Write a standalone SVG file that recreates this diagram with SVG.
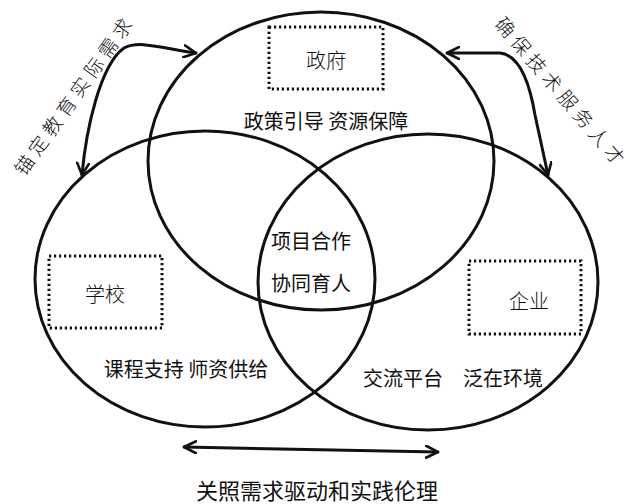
<svg xmlns="http://www.w3.org/2000/svg" width="639" height="504" viewBox="0 0 639 504">
<style>
.c{fill:none;stroke:#111;stroke-width:3}
.box{fill:none;stroke:#111;stroke-width:3;stroke-dasharray:2.2 2.8}
.a{fill:none;stroke:#111;stroke-width:3;stroke-linecap:round;stroke-linejoin:round}
.t{font-family:"Noto Sans CJK SC","Noto Sans",sans-serif;fill:#111;text-anchor:middle;dominant-baseline:central}
.lb{font-size:20px}
.bx{font-size:20px;font-weight:300}
.rt{font-size:19px;font-weight:300;letter-spacing:5px}
</style>
<defs>
<marker id="ah" viewBox="0 0 14 14" refX="13" refY="7" markerWidth="14" markerHeight="14" markerUnits="userSpaceOnUse" orient="auto-start-reverse">
<path d="M1,1 L13,7 L1,13" fill="none" stroke="#111" stroke-width="2.6" stroke-linecap="round" stroke-linejoin="round"/>
</marker>
</defs>
<g id="gov">
<ellipse class="c" cx="321" cy="161" rx="173" ry="149"/>
<rect class="box" x="269" y="27" width="114" height="62"/>
<text class="t bx" x="326" y="59">政府</text>
<text class="t lb" x="326" y="120">政策引导 资源保障</text>
</g>
<g id="school">
<ellipse class="c" cx="205" cy="279" rx="170" ry="148"/>
<rect class="box" x="49" y="256" width="113" height="72"/>
<text class="t bx" x="105" y="293">学校</text>
<text class="t lb" x="186" y="368">课程支持 师资供给</text>
</g>
<g id="enterprise">
<ellipse class="c" cx="428" cy="282" rx="170" ry="148"/>
<rect class="box" x="469" y="261" width="112" height="73"/>
<text class="t bx" x="529" y="300">企业</text>
<text class="t lb" x="453" y="377">交流平台　泛在环境</text>
</g>
<g id="center">
<text class="t lb" x="311" y="240">项目合作</text>
<text class="t lb" x="311" y="282">协同育人</text>
</g>
<g id="connectors">
<path class="a" d="M196,53 C160,48 140,40 124,48 C100,65 86,130 82,175" marker-start="url(#ah)" marker-end="url(#ah)"/>
<path class="a" d="M447,53 L500,53 C520,55 530,85 535,115 L548,175" marker-start="url(#ah)" marker-end="url(#ah)"/>
<path class="a" d="M184,447 L438,452" marker-start="url(#ah)" marker-end="url(#ah)"/>
</g>
<g id="labels">
<text class="t rt" x="2.5" y="0" transform="translate(72,96) rotate(-54.5)">锚定教育实际需求</text>
<text class="t rt" x="2.5" y="0" transform="translate(561,90) rotate(49.5)">确保技术服务人才</text>
<text class="t" style="font-size:22px" x="317" y="489">关照需求驱动和实践伦理</text>
</g>
</svg>
